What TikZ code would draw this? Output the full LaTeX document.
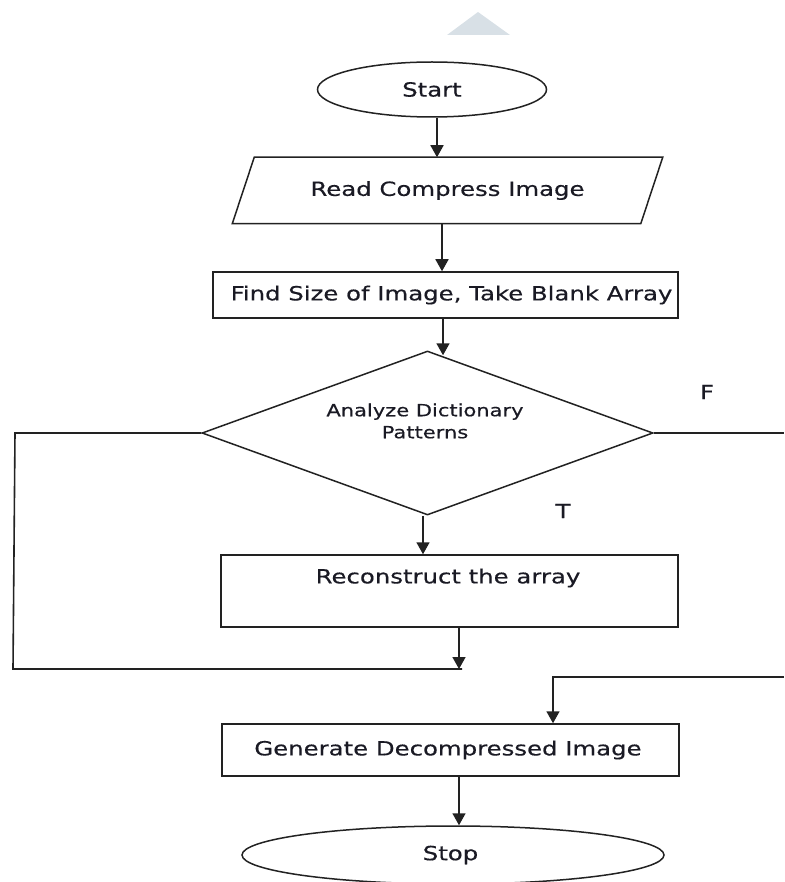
\documentclass[tikz,border=0pt]{standalone}
\usepackage{fontspec}
\newfontfamily\df[FakeStretch=1.25,FakeBold=0.4]{DejaVu Sans}
\usetikzlibrary{shapes.geometric,arrows.meta}
\definecolor{lnc}{HTML}{222222}
\definecolor{txc}{HTML}{1A1A24}
\definecolor{tric}{HTML}{D8E0E6}
\begin{document}
\begin{tikzpicture}[x=1pt,y=-1pt,
  box/.style={draw=lnc,line width=1.5pt,fill=white,inner sep=0pt,
    font=\df\fontsize{19.5}{22}\selectfont,text=txc},
  lbl/.style={inner sep=0pt,font=\df\fontsize{19.5}{22}\selectfont,text=txc},
  conn/.style={draw=lnc,line width=1.6pt},
  arr/.style={conn,-{Triangle[width=13pt,length=12pt]}}]
\useasboundingbox (0,0) rectangle (784,882);
\fill[tric] (478,12) -- (510,35) -- (447,35) -- cycle;

\node[box,ellipse,minimum width=229pt,minimum height=55pt] (start) at (432,89.5) {Start};
\node[box,draw=none,fill=none,rectangle,minimum width=407pt,minimum height=65pt] (read) at (447.5,190.5) {Read Compress Image};
\draw[draw=lnc,line width=1.5pt] ([xshift=11pt]read.north west) -- ([xshift=11pt]read.north east)
  -- ([xshift=-11pt]read.south east) -- ([xshift=-11pt]read.south west) -- cycle;
\node[box,rectangle,minimum width=465pt,minimum height=46pt] (find) at (445.5,295) {\hspace*{12pt}Find Size of Image, Take Blank Array};
\node[box,diamond,aspect=2.75,minimum width=451pt,minimum height=164pt] (dec) at (427.5,433) {};
\node[lbl,align=center,font=\df\fontsize{16.8}{22}\selectfont] (dectext) at (425,421) {Analyze Dictionary\\Patterns};
\node[box,rectangle,minimum width=457pt,minimum height=72pt] (recon) at (449.5,591) {};
\node[lbl] (recontext) at (448,578) {Reconstruct the array};
\node[box,rectangle,minimum width=457pt,minimum height=52pt] (gen) at (450.5,750) {Generate Decompressed Image\hspace*{5pt}};
\node[box,ellipse,minimum width=422pt,minimum height=58pt] (stop) at (453,855) {Stop\hspace*{5pt}};

\node[lbl] (flbl) at (707,392) {F};
\node[lbl] (tlbl) at (563,511) {T};

\coordinate (lt) at (15,433);
\coordinate (lb) at (13,669);
\coordinate (lj) at (462,669);
\coordinate (rt) at (784,433);
\coordinate (rb) at (784,677);
\coordinate (rc) at (553,677);

\draw[arr] ([xshift=5pt]start.south) -- ([xshift=5pt]start.south |- read.north);
\draw[arr] ([xshift=-5.5pt]read.south) -- ([xshift=-5.5pt]read.south |- find.north);
\draw[arr] ([xshift=-2.5pt]find.south) -- ([xshift=15.5pt,yshift=-5pt]dec.north);
\draw[arr] ([xshift=-4.5pt]dec.south) -- ([xshift=-4.5pt]dec.south |- recon.north);
\draw[arr] ([xshift=9.5pt]recon.south) -- ([xshift=9.5pt]recon.south |- lj);
\draw[conn] (dec.west) -- (lt) -- (lb) -- (lj);
\draw[conn] (dec.east) -- (rt);
\draw[arr] (rb) -- (rc) -- (rc |- gen.north);
\draw[arr] ([xshift=8.5pt]gen.south) -- ([xshift=8.5pt]gen.south |- stop.north);
\end{tikzpicture}
\end{document}
